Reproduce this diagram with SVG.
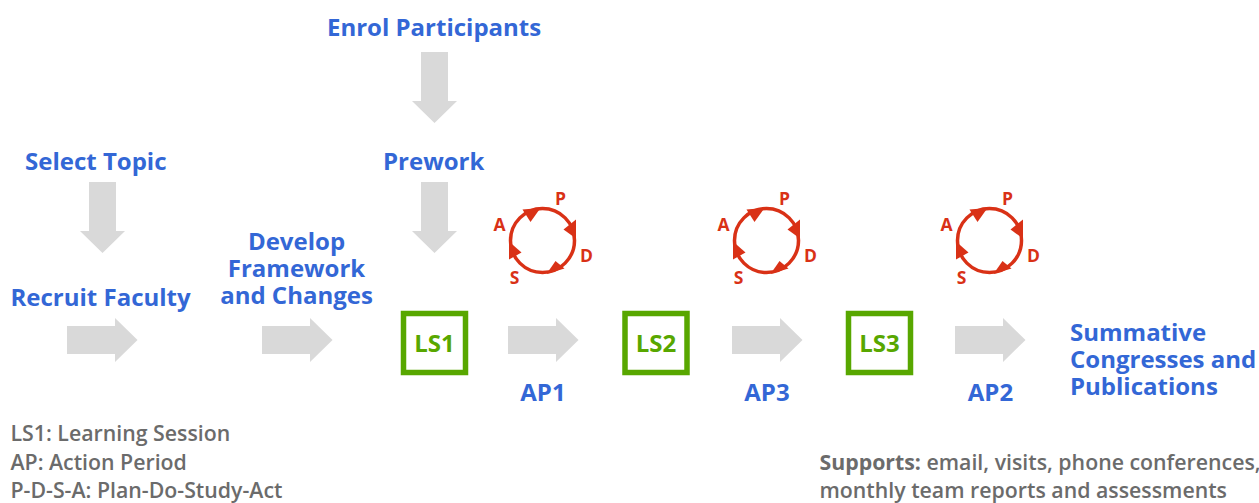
<svg xmlns="http://www.w3.org/2000/svg" width="1259" height="503" viewBox="0 0 1259 503">
<style>
text{font-family:"Open Sans","Noto Sans","Liberation Sans",sans-serif}
.b{font-size:24px;font-weight:700;fill:#3367d6}
.g{font-size:21.300px;font-weight:600;fill:#6b6b6b}
.gs{font-weight:700}
.l{font-size:24px;font-weight:700;fill:#58a700;text-anchor:middle}
.r{font-size:17.500px;font-weight:700;fill:#d93116;text-anchor:middle}
.c{fill:none;stroke:#d93116;stroke-width:3.5}
.h{fill:#d93116}
.a{fill:#d9d9d9}
.box{fill:#fff;stroke:#58a700;stroke-width:5.5}
</style>
<defs>
<polygon id="ar" class="a" points="0,-14 48,-14 48,-22 70.500,0 48,22 48,14 0,14"/>
<polygon id="ad" class="a" points="-13.500,0 13.500,0 13.500,49 22.500,49 0,71 -22.500,49 -13.500,49"/>
<g id="cycle">
<circle class="c" r="32"/>
<polygon class="h" points="-2,-32.500 -20,-31 -12,-18.500"/>
<polygon class="h" points="33.500,-2 33.500,-21 21,-11"/>
<polygon class="h" points="4,33.500 22,28 13,20.500"/>
<polygon class="h" points="-33.500,1 -33.500,19 -21,12"/>
<text class="r" x="18" y="-36">P</text>
<text class="r" x="44" y="21">D</text>
<text class="r" x="-28" y="43">S</text>
<text class="r" x="-43" y="-10">A</text>
</g>
</defs>
<g id="connectors">
<use href="#ad" x="434.500" y="52"/>
<use href="#ad" x="102.500" y="182"/>
<use href="#ad" x="434.500" y="182"/>
<use href="#ar" x="67" y="340"/>
<use href="#ar" x="262" y="340"/>
<use href="#ar" x="508" y="340"/>
<use href="#ar" x="732" y="340"/>
<use href="#ar" x="955" y="340"/>
</g>
<g id="enrol"><text class="b" x="327" y="36">Enrol Participants</text></g>
<g id="select"><text class="b" x="25" y="170">Select Topic</text></g>
<g id="prework"><text class="b" x="383" y="170">Prework</text></g>
<g id="recruit"><text class="b" x="10.500" y="306">Recruit Faculty</text></g>
<g id="develop"><text class="b" text-anchor="middle" x="296.500" y="250">Develop</text><text class="b" text-anchor="middle" x="296.500" y="277">Framework</text><text class="b" text-anchor="middle" x="296.500" y="304">and Changes</text></g>
<g id="ls1"><rect class="box" x="403.500" y="313.500" width="62" height="59"/><text class="l" x="434.500" y="352">LS1</text></g>
<g id="ls2"><rect class="box" x="625" y="313.500" width="62" height="59"/><text class="l" x="656" y="352">LS2</text></g>
<g id="ls3"><rect class="box" x="848.500" y="313.500" width="62" height="59"/><text class="l" x="879.500" y="352">LS3</text></g>
<g id="ap1"><text class="b" text-anchor="middle" x="543" y="401">AP1</text></g>
<g id="ap3"><text class="b" text-anchor="middle" x="767" y="401">AP3</text></g>
<g id="ap2"><text class="b" text-anchor="middle" x="990.500" y="401">AP2</text></g>
<g id="pdsa1"><use href="#cycle" x="542.500" y="240.500"/></g>
<g id="pdsa2"><use href="#cycle" x="766.500" y="240.500"/></g>
<g id="pdsa3"><use href="#cycle" x="989.500" y="240.500"/></g>
<g id="summative"><text class="b" x="1070" y="341">Summative</text><text class="b" x="1070" y="368">Congresses and</text><text class="b" x="1070" y="395">Publications</text></g>
<g id="legend"><text class="g" x="10.500" y="441">LS1: Learning Session</text><text class="g" x="10.500" y="470">AP: Action Period</text><text class="g" x="10.500" y="498">P-D-S-A: Plan-Do-Study-Act</text></g>
<g id="supports"><text class="g" x="819.500" y="470"><tspan class="gs">Supports:</tspan> email, visits, phone conferences,</text><text class="g" x="819.500" y="498">monthly team reports and assessments</text></g>
</svg>
